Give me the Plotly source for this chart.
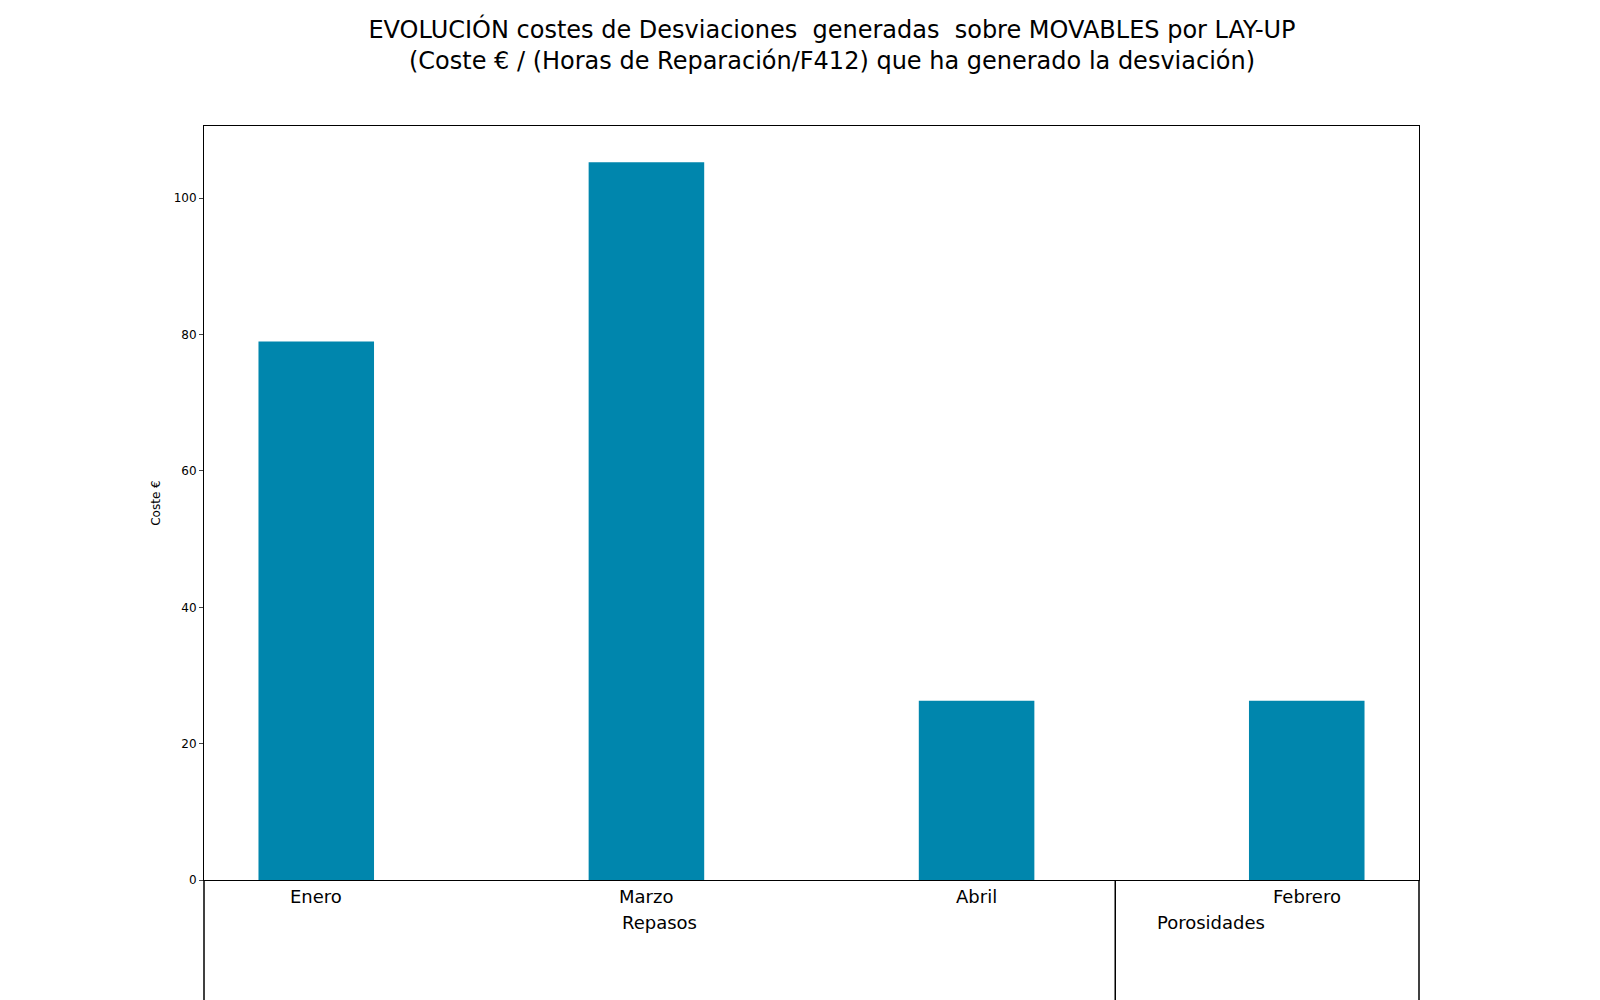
import plotly.graph_objects as go

months = ["Enero", "Marzo", "Abril", "Febrero"]
groups = ["Repasos", "Repasos", "Repasos", "Porosidades"]
values = [79.0, 105.3, 26.3, 26.3]
group_labels = ["Repasos", "Porosidades"]
group_label_x = [0.375, 0.875]
divider_x = [0.0, 0.75, 1.0]

x = list(range(len(months)))
fig = go.Figure(go.Bar(x=x, y=values, width=0.35, marker_color="#0086ad", marker_line_width=0))

font = "DejaVu Sans"
for xi, m in zip(x, months):
    fig.add_annotation(x=xi, xref="x", y=0, yref="y", text=m, showarrow=False,
                       yanchor="top", yshift=-4, font=dict(family=font, size=18, color="black"))
for gx, g in zip(group_label_x, group_labels):
    fig.add_annotation(x=gx, xref="paper", y=-0.04, yref="paper", text=g, showarrow=False,
                       yanchor="top", font=dict(family=font, size=18, color="black"))
for dx in divider_x:
    fig.add_shape(type="line", xref="paper", yref="paper", x0=dx, x1=dx, y0=0, y1=-0.2,
                  line=dict(color="black", width=1.5))

fig.update_layout(
    width=1600, height=1000, plot_bgcolor="white", paper_bgcolor="white",
    margin=dict(l=196, r=189, t=118, b=128),
    font=dict(family=font, color="black"),
    title=dict(text="EVOLUCIÓN costes de Desviaciones  generadas  sobre MOVABLES por LAY-UP<br>(Coste € / (Horas de Reparación/F412) que ha generado la desviación)",
               x=0.515, xanchor="center", y=0.97, yanchor="top", font=dict(size=24, family=font)),
    showlegend=False,
    xaxis=dict(range=[-0.34, 3.34], showticklabels=False, ticks="", showgrid=False,
               showline=True, linecolor="black", mirror=True, zeroline=False),
    yaxis=dict(range=[0, 110.6], dtick=20, ticks="outside", ticklen=4, showgrid=False,
               showline=True, linecolor="black", mirror=True, zeroline=False,
               tickfont=dict(size=12), title=dict(text="Coste €", font=dict(size=12), standoff=10)),
)
fig.write_html("out.html")
